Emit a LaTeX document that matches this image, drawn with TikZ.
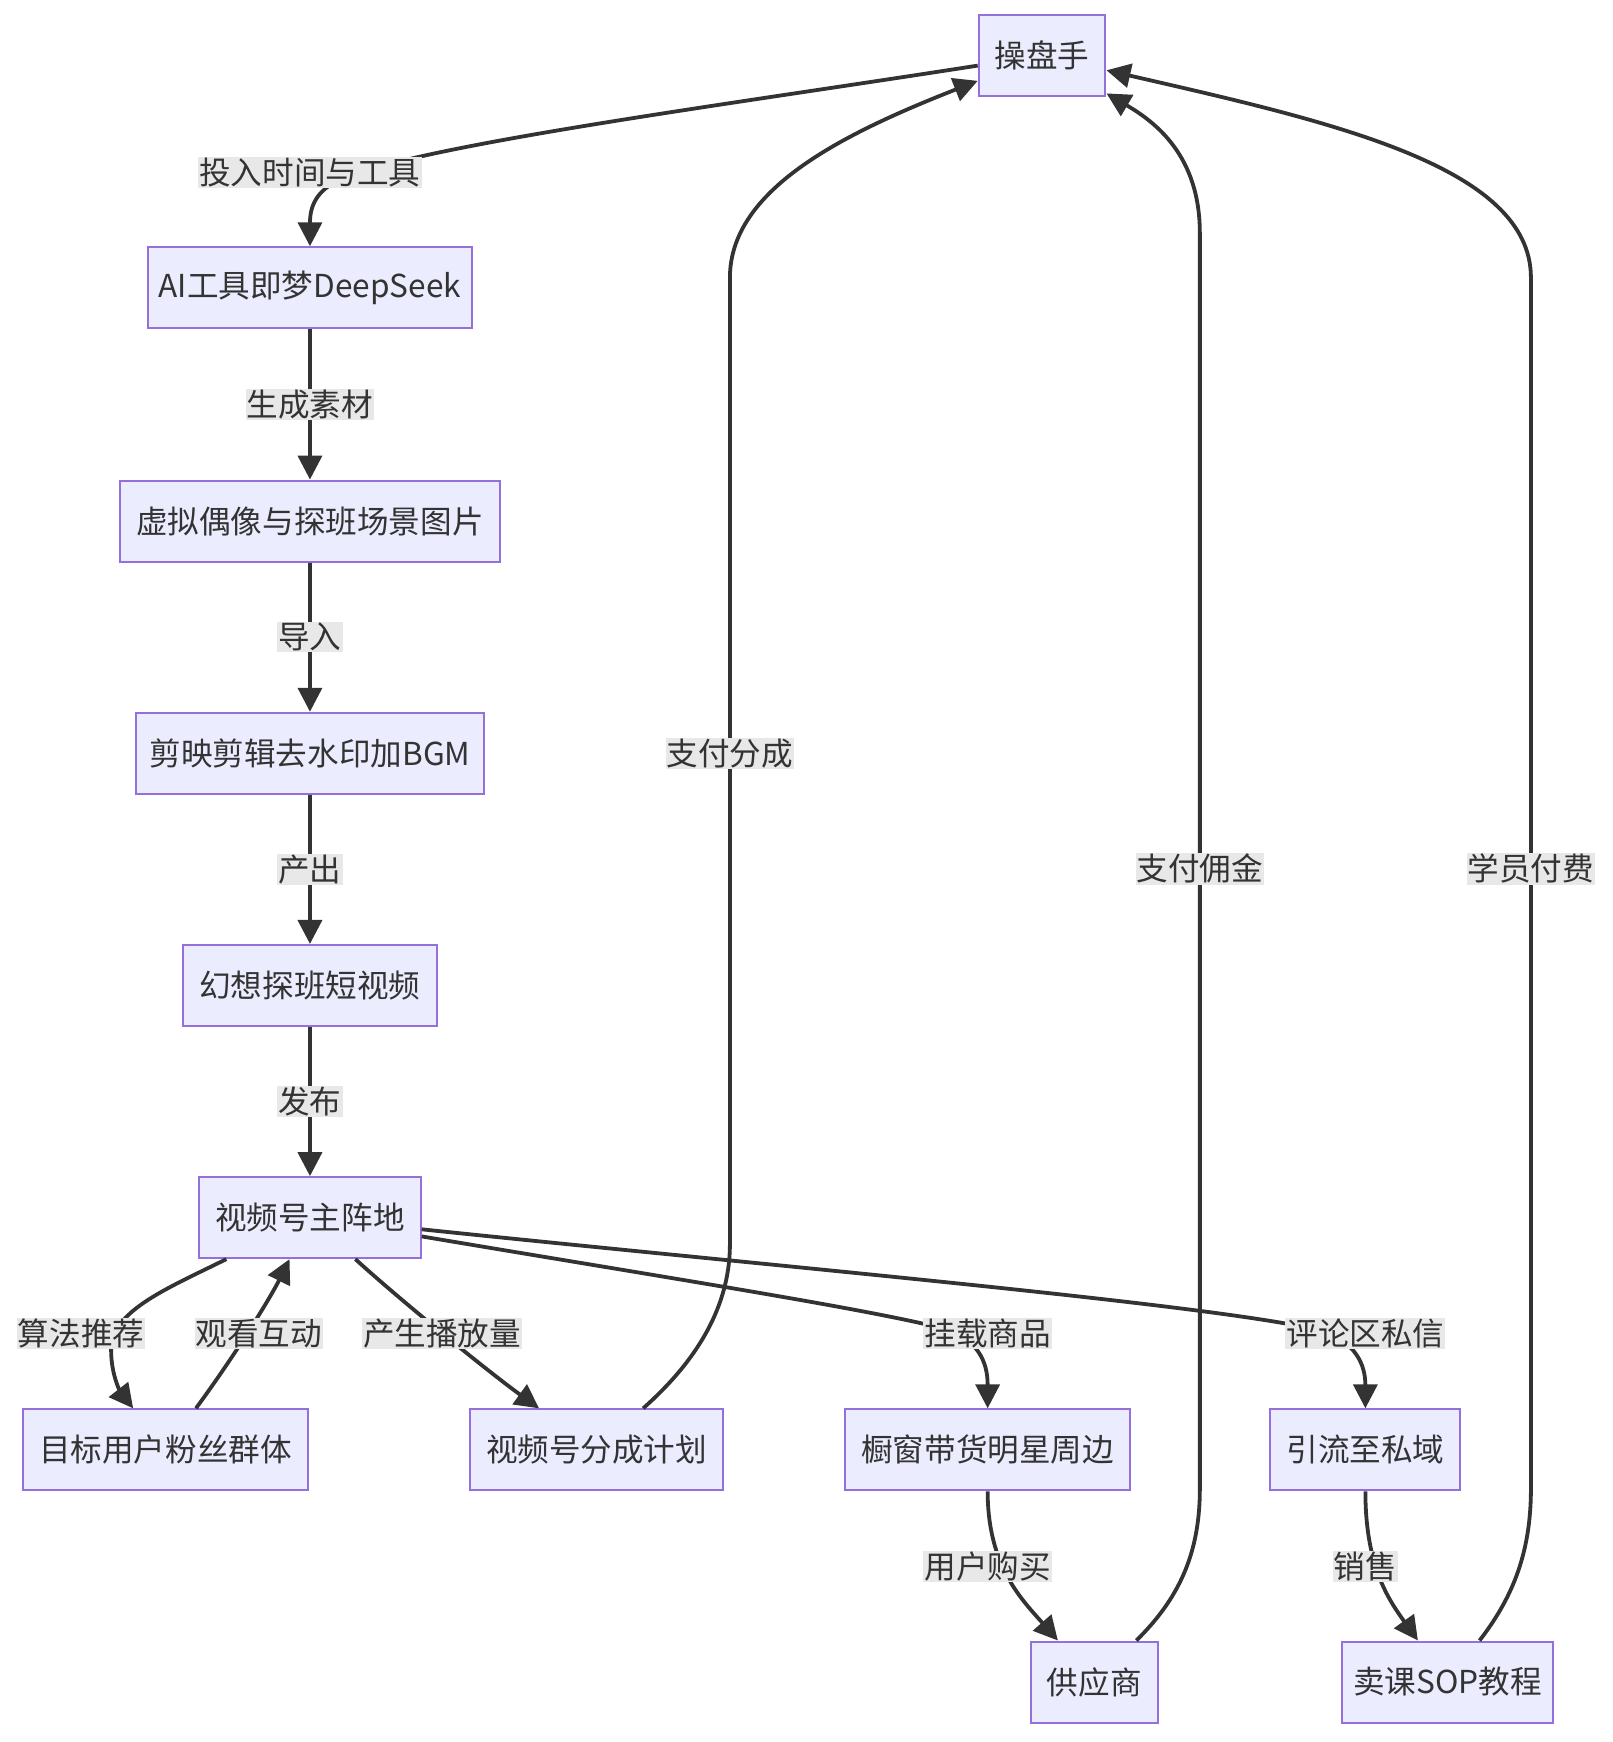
\documentclass[tikz,border=0pt]{standalone}
\usepackage{fontspec}
\setmainfont{Noto Sans CJK SC}
\usetikzlibrary{arrows.meta}
\definecolor{boxfill}{HTML}{ECECFF}
\definecolor{boxline}{HTML}{9370DB}
\definecolor{ink}{HTML}{333333}
\definecolor{lblbg}{HTML}{E8E8E8}
\tikzset{
  box/.style={rectangle,fill=boxfill,draw=boxline,line width=1pt,text=ink,
    minimum height=40.5pt,inner xsep=8pt,font=\fontsize{15.8pt}{19pt}\selectfont},
  edge/.style={draw=ink,line width=1.9pt,-{Triangle[length=12pt,width=12pt]}},
  lbl/.style={fill=lblbg,text=ink,inner xsep=0.5pt,inner ysep=0.5pt,
    font=\fontsize{15.8pt}{19pt}\selectfont}
}
\begin{document}
\begin{tikzpicture}[x=0.5556pt,y=-0.5556pt]
  \useasboundingbox (0,0) rectangle (1451,1568);
  \node[box] (op) at (938,50) {操盘手};
  \node[box,inner xsep=5.2pt] (ai) at (279,259) {AI工具即梦DeepSeek};
  \node[box] (img) at (279,469) {虚拟偶像与探班场景图片};
  \node[box,inner xsep=7pt] (cut) at (279,678) {剪映剪辑去水印加BGM};
  \node[box] (vid) at (279,887) {幻想探班短视频};
  \node[box] (main) at (279,1096) {视频号主阵地};
  \node[box] (fans) at (149,1305) {目标用户粉丝群体};
  \node[box] (plan) at (537,1305) {视频号分成计划};
  \node[box] (shop) at (889,1305) {橱窗带货明星周边};
  \node[box] (priv) at (1229,1305) {引流至私域};
  \node[box] (sup) at (985,1514) {供应商};
  \node[box,inner xsep=5.5pt] (course) at (1303,1514) {卖课SOP教程};

  % production chain
  \draw[edge] (op) .. controls (650,95) and (380,130) .. (305,162)
    .. controls (285,172) and (279,185) .. (ai);
  \draw[edge] (ai) -- node[lbl] (l2) {生成素材} (img);
  \draw[edge] (img) -- node[lbl] (l3) {导入} (cut);
  \draw[edge] (cut) -- node[lbl] (l4) {产出} (vid);
  \draw[edge] (vid) -- node[lbl] (l5) {发布} (main);

  % distribution
  \draw[edge] (main) .. controls (150,1160) and (100,1180) .. (100,1215)
    .. controls (100,1240) and (110,1255) .. (fans);
  \draw[edge] (fans) .. controls (215,1215) and (245,1165) .. (main);
  \draw[edge] (main) .. controls (360,1170) and (440,1235) .. (plan);
  \draw[edge] (main) .. controls (600,1150) and (780,1178) .. (850,1196)
    .. controls (880,1206) and (889,1225) .. (shop);
  \draw[edge] (main) .. controls (700,1140) and (1100,1175) .. (1190,1198)
    .. controls (1220,1208) and (1229,1228) .. (priv);
  \draw[edge] (shop) .. controls (889,1410) and (920,1440) .. (sup);
  \draw[edge] (priv) .. controls (1229,1410) and (1250,1440) .. (course);

  % money back to op
  \draw[edge] (plan) .. controls (610,1240) and (657,1190) .. (657,1120)
    -- (657,250) .. controls (657,170) and (760,120) .. (op);
  \draw[edge] (sup) .. controls (1060,1440) and (1080,1400) .. (1080,1340)
    -- (1080,210) .. controls (1080,140) and (1040,110) .. (op);
  \draw[edge] (course) .. controls (1360,1440) and (1378,1400) .. (1378,1340)
    -- (1378,250) .. controls (1378,150) and (1200,110) .. (op);

  \node[lbl] (l1) at (279,155) {投入时间与工具};
  \node[lbl] (l6) at (73,1200) {算法推荐};
  \node[lbl] (l7) at (233,1200) {观看互动};
  \node[lbl] (l8) at (398,1200) {产生播放量};
  \node[lbl] (l9) at (889,1200) {挂载商品};
  \node[lbl] (l10) at (1229,1200) {评论区私信};
  \node[lbl] (l11) at (889,1410) {用户购买};
  \node[lbl] (l12) at (1229,1410) {销售};
  \node[lbl] (l13) at (657,678) {支付分成};
  \node[lbl] (l14) at (1080,782) {支付佣金};
  \node[lbl] (l15) at (1378,782) {学员付费};
\end{tikzpicture}
\end{document}
